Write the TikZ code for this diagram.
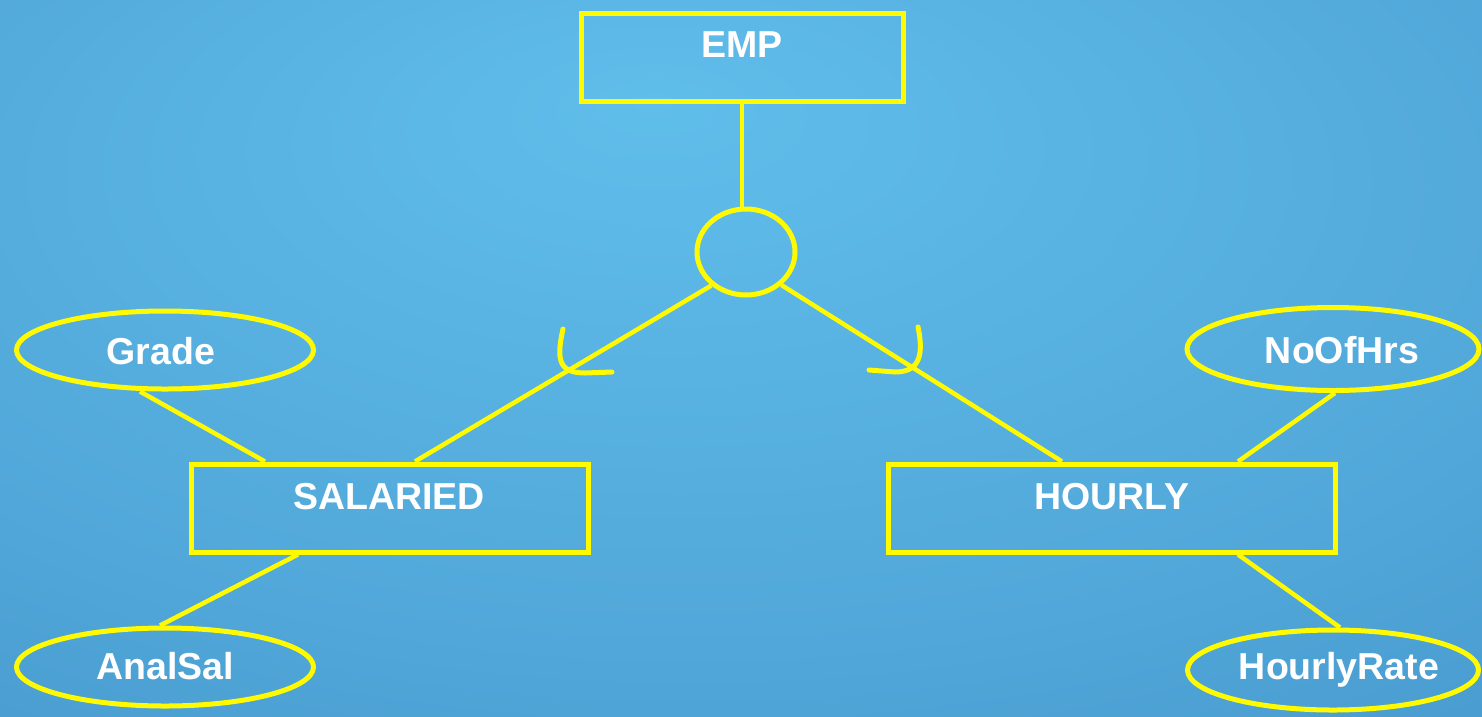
\documentclass[tikz,border=0pt]{standalone}
\usepackage{fontspec}
\setmainfont{Liberation Sans}
\usetikzlibrary{shapes.geometric}
\definecolor{bgA}{RGB}{96,190,235}
\definecolor{bgB}{RGB}{80,166,216}
\definecolor{bgC}{RGB}{54,128,184}
\definecolor{erline}{RGB}{255,250,0}
\pgfdeclareradialshading{slidebg}{\pgfpoint{-3bp}{18bp}}{%
  color(0bp)=(bgA); color(32bp)=(bgB); color(72bp)=(bgC)}
\begin{document}
\begin{tikzpicture}[x=1pt,y=-1pt,
  every node/.style={inner sep=0pt},
  entity/.style={draw=erline, line width=5pt, rectangle, minimum width=#1, minimum height=88pt},
  attr/.style={draw=erline, line width=5pt, ellipse, minimum width=#1, minimum height=78pt},
  lbl/.style={text=white, font=\fontsize{37.5}{44}\selectfont\bfseries},
  link/.style={draw=erline, line width=4.5pt},
  subsetmark/.style={draw=erline, line width=5pt, line cap=round}]
  % background
  \useasboundingbox (0,0) rectangle (1482,716);
  \shade[shading=slidebg] (0,0) rectangle (1482,716);

  % entities
  \node[entity=322pt] (emp) at (742,57) {};
  \node[entity=397pt] (sal) at (390,508) {};
  \node[entity=447pt] (hour) at (1112,508) {};
  % specialization circle
  \node[draw=erline, line width=5pt, ellipse, minimum width=98pt, minimum height=86pt] (circ) at (746,252) {};
  % attributes
  \node[attr=297pt] (grade) at (165,350) {};
  \node[attr=297pt] (anal) at (165,667) {};
  \node[attr=292pt, minimum height=83pt] (noh) at (1333,349) {};
  \node[attr=291pt, minimum height=80pt] (hr) at (1333,670) {};

  % labels
  \node[lbl] (emp-t) at (742,45) {EMP};
  \node[lbl] (sal-t) at (389,497) {SALARIED};
  \node[lbl] (hour-t) at (1112,497) {HOURLY};
  \node[lbl] (grade-t) at (161,351) {Grade};
  \node[lbl] (anal-t) at (165,666) {AnalSal};
  \node[lbl] (noh-t) at (1342,350) {NoOfHrs};
  \node[lbl] (hr-t) at (1339,670) {HourlyRate};

  % connectors
  \draw[link] (emp.south) -- (emp.south |- circ.north);
  \draw[link] (circ.224) -- ([xshift=25pt]sal.north);
  \draw[link] (circ.317) -- ([xshift=-50pt]hour.north);
  \draw[link] ([xshift=-25pt]grade.south) -- ([xshift=-125pt]sal.north);
  \draw[link] ([xshift=-92pt]sal.south) -- ([xshift=-5pt]anal.north);
  \draw[link] ([xshift=2pt]noh.south) -- ([xshift=126pt]hour.north);
  \draw[link] ([xshift=126pt]hour.south) -- ([xshift=7pt]hr.north);

  % subset marks on the specialization lines
  \draw[subsetmark] (563,329) .. controls (556,360) and (559,373) .. (585,373) -- (612,372);
  \draw[subsetmark] (918,327) .. controls (925,360) and (916,372) .. (895,372) -- (869,370);
\end{tikzpicture}
\end{document}
